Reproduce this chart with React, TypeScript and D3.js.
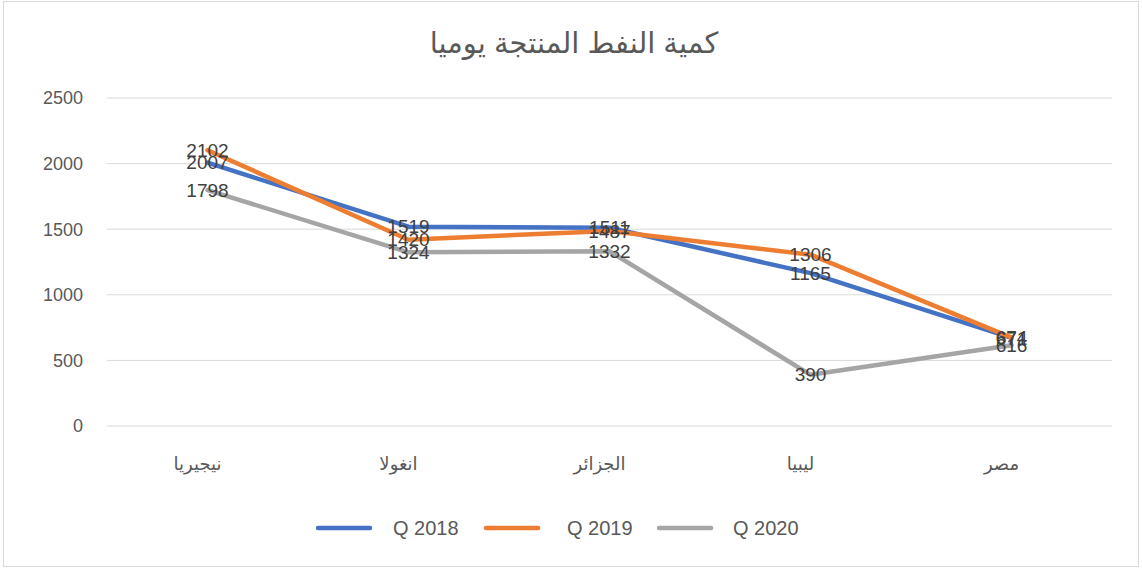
import React from "react";
import * as d3 from "d3";

const title = "كمية النفط المنتجة يوميا";
const categories = ["نيجيريا", "انغولا", "الجزائر", "ليبيا", "مصر"];
const seriesNames = ["Q 2018", "Q 2019", "Q 2020"];
const values2018 = [2007, 1519, 1511, 1165, 671];
const values2019 = [2102, 1420, 1487, 1306, 674];
const values2020 = [1798, 1324, 1332, 390, 616];
const yTicks = [0, 500, 1000, 1500, 2000, 2500];
const colors = ["#4472C4", "#ED7D31", "#A5A5A5"];

const W = 1142;
const H = 570;
const left = 107;
const right = 1112;
const top = 98;
const bottom = 426;
const font = "'Liberation Sans', 'DejaVu Sans', sans-serif";

export default function App() {
  const series = [values2018, values2019, values2020];
  const x = d3.scaleBand<string>().domain(categories).range([left, right]);
  const y = d3.scaleLinear().domain([0, 2500]).range([bottom, top]);
  const line = d3
    .line<number>()
    .x((_, i) => (x(categories[i]) as number) + x.bandwidth() / 2)
    .y((d) => y(d));
  const legendX = [318, 486, 659];
  const legendTextX = [393, 567, 733];
  return (
    <svg
      width={W}
      height={H}
      style={{ position: "absolute", left: 0, top: 0, background: "#fff" }}
    >
      <rect x={3.5} y={1.5} width={1135} height={565} fill="#fff" stroke="#D9D9D9" strokeWidth={1} />
      <text x={574} y={53} textAnchor="middle" fontFamily={font} fontSize={29} fill="#595959">
        {title}
      </text>
      {yTicks.map((t) => (
        <g key={t}>
          <line x1={left} x2={right} y1={y(t)} y2={y(t)} stroke="#D9D9D9" strokeWidth={1} />
          <text x={83} y={y(t)} dy="0.35em" textAnchor="end" fontFamily={font} fontSize={18} fill="#595959">
            {t}
          </text>
        </g>
      ))}
      {categories.map((c) => (
        <text
          key={c}
          x={(x(c) as number) + x.bandwidth() / 2 - 10}
          y={464}
          dy="0.35em"
          textAnchor="middle"
          fontFamily={font}
          fontSize={18}
          fill="#595959"
        >
          {c}
        </text>
      ))}
      {series.map((s, i) => (
        <path
          key={i}
          d={line(s) as string}
          fill="none"
          stroke={colors[i]}
          strokeWidth={4.5}
          strokeLinejoin="round"
          strokeLinecap="round"
        />
      ))}
      {series.map((s, i) =>
        s.map((v, j) => (
          <text
            key={i + "-" + j}
            x={(x(categories[j]) as number) + x.bandwidth() / 2}
            y={y(v)}
            dy="0.35em"
            textAnchor="middle"
            fontFamily={font}
            fontSize={19}
            fill="#404040"
          >
            {v}
          </text>
        ))
      )}
      {seriesNames.map((n, i) => (
        <g key={n}>
          <line
            x1={legendX[i]}
            x2={legendX[i] + 52}
            y1={528}
            y2={528}
            stroke={colors[i]}
            strokeWidth={4.5}
            strokeLinecap="round"
          />
          <text x={legendTextX[i]} y={528} dy="0.35em" fontFamily={font} fontSize={20} fill="#595959">
            {n}
          </text>
        </g>
      ))}
    </svg>
  );
}
